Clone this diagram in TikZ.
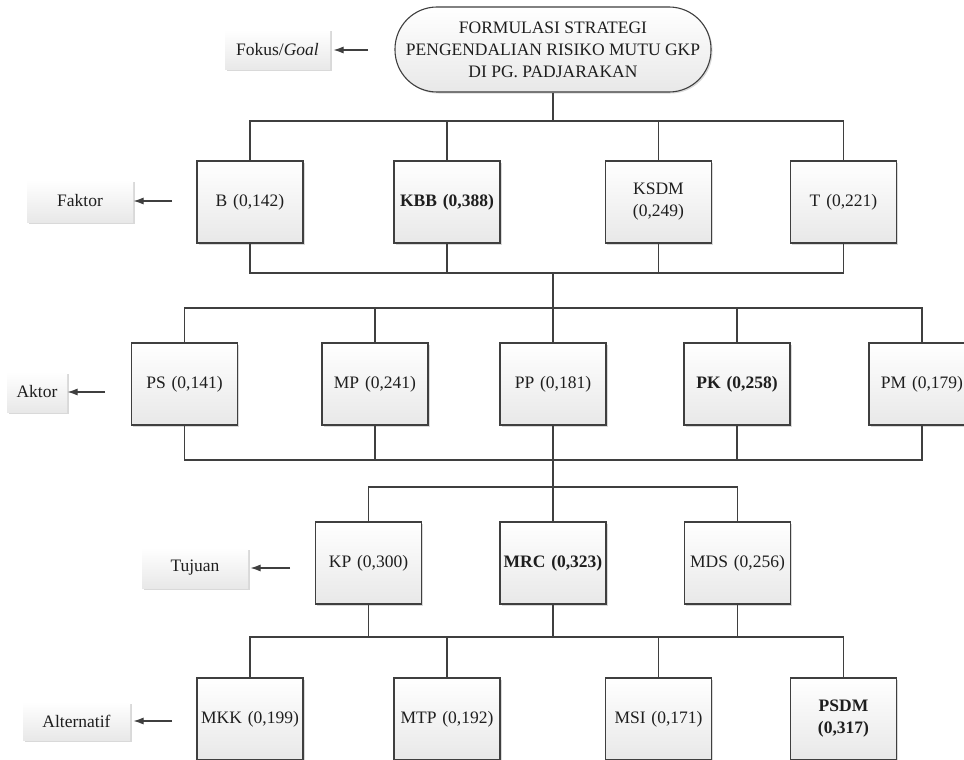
\documentclass[tikz,border=0pt]{standalone}
\usepackage{fontspec}
\setmainfont{Liberation Serif}
\usepackage{tikz}
\usetikzlibrary{shadows}
\usetikzlibrary{arrows.meta}
\usetikzlibrary{shapes}
\usetikzlibrary{positioning}
\usepackage{xcolor}
\definecolor{linegray}{HTML}{3F3F3F}
\definecolor{textgray}{HTML}{1E1E1E}
\tikzset{
  % arrow tip for the level pointers
  >={Latex[length=10pt,width=7pt]},
  % soft shadow used on every box
  softshadow/.style={drop shadow={shadow xshift=1.5pt, shadow yshift=-1.5pt, opacity=0.25, fill=black!60}}
}

\begin{document}
\begin{tikzpicture}[x=1pt, y=-1pt, line width=1.1pt, text=textgray,
    font=\fontsize{17.5pt}{22pt}\selectfont]
    % Define styles
    \tikzstyle{block} = [rectangle, draw=linegray, top color=white, bottom color=black!9, softshadow, minimum width=106pt, minimum height=82pt, inner sep=0pt, text width=104pt, text centered]
    \tikzstyle{goalbox} = [rectangle, draw=linegray, rounded corners=42pt, top color=white, bottom color=black!9, softshadow, minimum width=316pt, minimum height=85pt, inner sep=0pt, align=center]
    \tikzstyle{tag} = [rectangle, top color=white, bottom color=black!9, softshadow, inner sep=0pt, text centered]
    \tikzstyle{line} = [draw=linegray]
    \tikzstyle{pointer} = [draw=linegray, ->]

    \useasboundingbox (0,0) rectangle (964,760);

    % Place nodes
    \node [goalbox] (goal) at (553,49.5) {FORMULASI STRATEGI\\PENGENDALIAN RISIKO MUTU GKP\\DI PG. PADJARAKAN};

    \node [block] (fB) at (250,202) {B (0,142)};
    \node [block, right of=fB, node distance=197pt] (fKBB) {\textbf{KBB (0,388)}};
    \node [block, right of=fKBB, node distance=211.5pt] (fKSDM) {KSDM\\(0,249)};
    \node [block, right of=fKSDM, node distance=185pt] (fT) {T (0,221)};

    \node [block] (aPS) at (184.5,384) {PS (0,141)};
    \node [block, right of=aPS, node distance=190.5pt] (aMP) {MP (0,241)};
    \node [block, right of=aMP, node distance=178pt] (aPP) {PP (0,181)};
    \node [block, right of=aPP, node distance=184pt] (aPK) {\textbf{PK (0,258)}};
    \node [block, right of=aPK, node distance=185pt] (aPM) {PM (0,179)};

    \node [block] (tKP) at (368.5,563) {KP (0,300)};
    \node [block, right of=tKP, node distance=184.5pt] (tMRC) {\textbf{MRC (0,323)}};
    \node [block, right of=tMRC, node distance=184.5pt] (tMDS) {MDS (0,256)};

    \node [block] (lMKK) at (250,719) {MKK (0,199)};
    \node [block, right of=lMKK, node distance=197pt] (lMTP) {MTP (0,192)};
    \node [block, right of=lMTP, node distance=211.5pt] (lMSI) {MSI (0,171)};
    \node [block, right of=lMSI, node distance=185pt] (lPSDM) {\textbf{PSDM}\\\textbf{(0,317)}};

    % Level tags
    \node [tag, minimum width=105pt, minimum height=40pt] (fokus) at (277.5,50) {Fokus/\textit{Goal}};
    \node [tag, minimum width=106pt, minimum height=42pt] (faktor) at (80,201) {Faktor};
    \node [tag, minimum width=60pt, minimum height=40pt] (aktor) at (37,392) {Aktor};
    \node [tag, minimum width=106pt, minimum height=40pt] (tujuan) at (195,568) {Tujuan};
    \node [tag, minimum width=107pt, minimum height=38pt] (alternatif) at (76.5,721) {Alternatif};

    % Junctions of the bus lines
    \coordinate (j0) at (553,121);
    \coordinate (j1) at (553,273);
    \coordinate (j2) at (553,308);
    \coordinate (j3) at (553,460);
    \coordinate (j4) at (553,487);
    \coordinate (j5) at (553,637);

    % Pointer tails
    \coordinate (pFokus) at (368,50);
    \coordinate (pFaktor) at (172,201);
    \coordinate (pAktor) at (105,392);
    \coordinate (pTujuan) at (290,568);
    \coordinate (pAlternatif) at (172,721);

    % Draw edges
    \path [line] (goal) -- (j0);
    \path [line] (j0) -| (fB.north);
    \path [line] (j0) -| (fKBB.north);
    \path [line] (j0) -| (fKSDM.north);
    \path [line] (j0) -| (fT.north);

    \path [line] (fB.south) |- (j1);
    \path [line] (fKBB.south) |- (j1);
    \path [line] (fKSDM.south) |- (j1);
    \path [line] (fT.south) |- (j1);
    \path [line] (j1) -- (j2);
    \path [line] (j2) -| (aPS.north);
    \path [line] (j2) -| (aMP.north);
    \path [line] (j2) -| (aPP.north);
    \path [line] (j2) -| (aPK.north);
    \path [line] (j2) -| (aPM.north);

    \path [line] (aPS.south) |- (j3);
    \path [line] (aMP.south) |- (j3);
    \path [line] (aPP.south) |- (j3);
    \path [line] (aPK.south) |- (j3);
    \path [line] (aPM.south) |- (j3);
    \path [line] (j3) -- (j4);
    \path [line] (j4) -| (tKP.north);
    \path [line] (j4) -| (tMRC.north);
    \path [line] (j4) -| (tMDS.north);

    \path [line] (tKP.south) |- (j5);
    \path [line] (tMRC.south) |- (j5);
    \path [line] (tMDS.south) |- (j5);
    \path [line] (j5) -| (lMKK.north);
    \path [line] (j5) -| (lMTP.north);
    \path [line] (j5) -| (lMSI.north);
    \path [line] (j5) -| (lPSDM.north);

    \path [pointer, shorten >=3pt] (pFokus) -- (fokus.east);
    \path [pointer] (pFaktor) -- (faktor.east);
    \path [pointer] (pAktor) -- (aktor.east);
    \path [pointer, shorten >=2pt] (pTujuan) -- (tujuan.east);
    \path [pointer, shorten >=3pt] (pAlternatif) -- (alternatif.east);

\end{tikzpicture}
\end{document}
